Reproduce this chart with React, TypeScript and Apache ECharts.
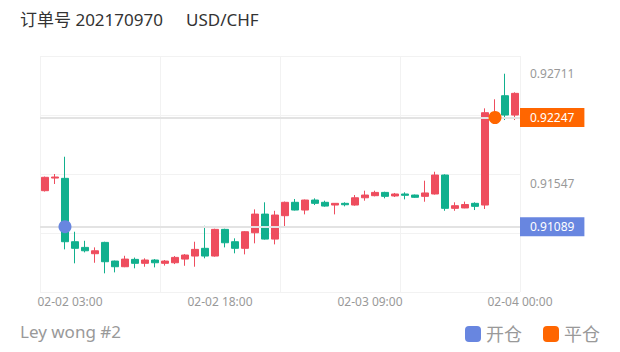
import React, { useEffect, useRef } from "react";
import * as echarts from "echarts";

const openVals = [
  0.91471, 0.91605, 0.91602, 0.9093, 0.9087, 0.90803, 0.90923, 0.90725, 0.90665, 0.90743, 0.90701, 0.90736,
  0.90701, 0.90707, 0.90746, 0.90778, 0.9086, 0.90778, 0.91061, 0.9093, 0.9086, 0.91025, 0.91223, 0.90958,
  0.91206, 0.91348, 0.91266, 0.91372, 0.91348, 0.91319, 0.91337, 0.91319, 0.91396, 0.91418, 0.91453, 0.91415,
  0.91436, 0.91425, 0.91411, 0.91436, 0.91637, 0.91284, 0.91288, 0.91337, 0.91319, 0.9223, 0.92478, 0.92273,
];
const closeVals = [
  0.91613, 0.91616, 0.9093, 0.9086, 0.90834, 0.90834, 0.90718, 0.90665, 0.90746, 0.90701, 0.90736, 0.90707,
  0.90725, 0.90764, 0.90789, 0.90849, 0.90778, 0.91061, 0.90919, 0.9086, 0.91036, 0.91223, 0.90958, 0.91213,
  0.91348, 0.91266, 0.91372, 0.91337, 0.91308, 0.91337, 0.91322, 0.91396, 0.91425, 0.91453, 0.91411, 0.91436,
  0.91422, 0.91401, 0.91447, 0.91637, 0.91284, 0.91312, 0.91324, 0.91305, 0.92298, 0.92265, 0.92273, 0.92503,
];
const lowVals = [
  0.91462, 0.91542, 0.90849, 0.90701, 0.90817, 0.90707, 0.90595, 0.90605, 0.9066, 0.90648, 0.90665, 0.90658,
  0.90677, 0.90693, 0.90675, 0.90665, 0.90754, 0.90772, 0.9087, 0.90807, 0.90796, 0.90913, 0.90953, 0.90902,
  0.91089, 0.91261, 0.9122, 0.91319, 0.91301, 0.9122, 0.91305, 0.91312, 0.91365, 0.91411, 0.9139, 0.91404,
  0.91379, 0.91395, 0.91354, 0.9143, 0.91258, 0.91258, 0.91285, 0.91266, 0.91277, 0.922, 0.9222, 0.9222,
];
const highVals = [
  0.91621, 0.91648, 0.91831, 0.91036, 0.9094, 0.9087, 0.9093, 0.9073, 0.90781, 0.90762, 0.90754, 0.90746,
  0.90736, 0.90778, 0.90799, 0.9093, 0.91099, 0.91068, 0.91068, 0.90966, 0.91043, 0.91273, 0.91348, 0.91258,
  0.91356, 0.91383, 0.91377, 0.9139, 0.91365, 0.9134, 0.91348, 0.91425, 0.91471, 0.91471, 0.9146, 0.91447,
  0.91454, 0.9143, 0.91577, 0.91672, 0.91645, 0.91348, 0.91355, 0.91348, 0.92344, 0.9244, 0.92711, 0.92514,
];

// hour offsets from 02-02 00:00 (boundaries of the hourly candles)
const hourLabel = (h: number) => {
  const day = 2 + Math.floor(h / 24);
  const hh = h % 24;
  return `02-0${day} ${hh < 10 ? "0" + hh : hh}:00`;
};
const candleCategories = openVals.map((_, i) => hourLabel(i));
const boundaryCategories = Array.from({ length: openVals.length + 1 }, (_, i) => hourLabel(i));
const shownTickHours = [3, 18, 33, 48];
const gridLineHours = [0, 12, 24, 36, 48];

const openPoint = { index: 2, value: 0.91089 };
const closePoint = { index: 45, value: 0.92247 };
const refLabels = [0.92711, 0.91547];

const yMin = 0.90397;
const yMax = 0.92899;

const RED = "#ee4d5e";
const GREEN = "#11b08e";
const BLUE = "#6886e0";
const ORANGE = "#ff6600";
const FONT = "'Noto Sans', 'Noto Sans CJK SC', sans-serif";

export default function App() {
  const ref = useRef<HTMLDivElement>(null);
  useEffect(() => {
    if (!ref.current) return;
    const chart = echarts.init(ref.current, undefined, { renderer: "svg" });
    const candleData = openVals.map((o, i) => [o, closeVals[i], lowVals[i], highVals[i]]);
    const boxLabel = (bg: string, color: string) => ({
      show: true,
      position: "end",
      distance: 0,
      formatter: (p: any) => Number(p.value).toFixed(5),
      backgroundColor: bg,
      color,
      padding: [4, 10, 3, 10],
      fontSize: 12,
      fontFamily: FONT,
    });
    chart.setOption({
      animation: false,
      textStyle: { fontFamily: FONT },
      grid: { left: 40, right: 100, top: 56, bottom: 60 },
      graphic: [
        {
          type: "text",
          left: 20,
          top: 11,
          style: { text: "订单号 202170970", fontSize: 17, fill: "#333", fontFamily: FONT },
        },
        {
          type: "text",
          left: 186,
          top: 11,
          style: { text: "USD/CHF", fontSize: 17, fill: "#333", fontFamily: FONT },
        },
        {
          type: "text",
          left: 20,
          top: 323,
          style: { text: "Ley wong #2", fontSize: 17, fill: "#999", fontFamily: FONT },
        },
      ],
      legend: {
        data: ["开仓", "平仓"],
        right: 15,
        top: 320,
        icon: "roundRect",
        itemWidth: 16,
        itemHeight: 16,
        itemGap: 21,
        textStyle: { fontSize: 18, color: "#999", fontFamily: FONT },
      },
      xAxis: [
        {
          type: "category",
          data: candleCategories,
          show: false,
          boundaryGap: true,
        },
        {
          type: "category",
          data: boundaryCategories,
          boundaryGap: false,
          position: "bottom",
          axisLine: { show: false },
          axisTick: { show: false },
          axisLabel: {
            interval: (i: number) => shownTickHours.includes(i),
            color: "#999",
            fontSize: 12,
            margin: 3,
            fontFamily: FONT,
          },
          splitLine: {
            show: true,
            interval: (i: number) => gridLineHours.includes(i),
            lineStyle: { color: "#f2f2f2", width: 1 },
          },
        },
      ],
      yAxis: {
        type: "value",
        position: "right",
        min: yMin,
        max: yMax,
        interval: (yMax - yMin) / 4,
        scale: true,
        axisLabel: { show: false },
        axisLine: { show: false },
        axisTick: { show: false },
        splitLine: { show: true, lineStyle: { color: "#f2f2f2", width: 1 } },
      },
      series: [
        {
          type: "candlestick",
          xAxisIndex: 0,
          data: candleData,
          barWidth: 7,
          itemStyle: {
            color: RED,
            color0: GREEN,
            borderColor: RED,
            borderColor0: GREEN,
            borderWidth: 1,
          },
        },
        {
          name: "参考价",
          type: "line",
          xAxisIndex: 0,
          data: [],
          showSymbol: false,
          markLine: {
            silent: true,
            precision: 5,
            symbol: ["none", "none"],
            lineStyle: { color: "rgba(255,255,255,0)", width: 1, type: "solid" },
            label: boxLabel("rgba(255,255,255,0)", "#999"),
            data: refLabels.map((v) => ({ yAxis: v })),
          },
        },
        {
          name: "开仓",
          type: "scatter",
          xAxisIndex: 0,
          symbol: "circle",
          symbolSize: 13,
          itemStyle: { color: BLUE, opacity: 1 },
          data: [[openPoint.index, openPoint.value]],
          z: 5,
          markLine: {
            silent: true,
            precision: 5,
            symbol: ["none", "none"],
            lineStyle: { color: "#e3e3e3", width: 2, type: "solid" },
            label: boxLabel(BLUE, "#fff"),
            data: [{ yAxis: openPoint.value }],
          },
        },
        {
          name: "平仓",
          type: "scatter",
          xAxisIndex: 0,
          symbol: "circle",
          symbolSize: 13,
          itemStyle: { color: ORANGE, opacity: 1 },
          data: [[closePoint.index, closePoint.value]],
          z: 5,
          markLine: {
            silent: true,
            precision: 5,
            symbol: ["none", "none"],
            lineStyle: { color: "#e3e3e3", width: 2, type: "solid" },
            label: boxLabel(ORANGE, "#fff"),
            data: [{ yAxis: closePoint.value }],
          },
        },
      ],
    });
    return () => chart.dispose();
  }, []);
  return (
    <div
      ref={ref}
      style={{ position: "absolute", left: 0, top: 0, width: 620, height: 352, background: "#fff" }}
    />
  );
}
